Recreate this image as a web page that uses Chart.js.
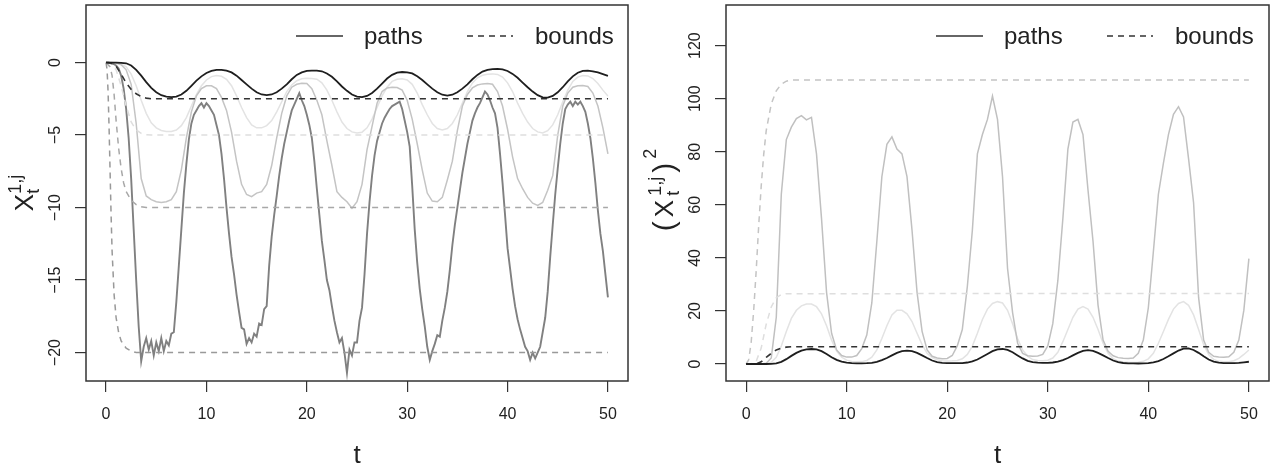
<!DOCTYPE html>
<html lang="en">
<head>
<meta charset="UTF-8">
<title>Paths and bounds</title>
<script src="https://cdn.jsdelivr.net/npm/chart.js"></script>
<style>
  body { margin: 0; background: #fff; }
  #wrap { position: relative; width: 1273px; height: 466px; }
  .panel { position: absolute; top: 0; height: 466px; }
  #left { left: 0; width: 640px; }
  #right { left: 640px; width: 633px; }
</style>
</head>
<body>
<div id="wrap">
  <div class="panel" id="left"><canvas id="chartLeft" width="640" height="466"></canvas></div>
  <div class="panel" id="right"><canvas id="chartRight" width="633" height="466"></canvas></div>
</div>
<script>
// ---- data ----
var xTicks = [0, 10, 20, 30, 40, 50];
var yTicksLeft = [-20, -15, -10, -5, 0];
var yTicksRight = [0, 20, 40, 60, 80, 100, 120];

// sampling times: paths 1-3 every 0.5, path 4 every 0.25
var tHalf = [];
for (var i = 0; i <= 100; i++) tHalf.push(i * 0.5);
var tQuarter = [];
for (var j = 0; j <= 200; j++) tQuarter.push(j * 0.25);

// left panel: X_t paths
var path1 = [
  0, 0, 0, -0.02, -0.05, -0.2, -0.5, -0.9, -1.35, -1.75,
  -2.05, -2.25, -2.35, -2.38, -2.35, -2.2, -1.95, -1.6, -1.25, -0.95,
  -0.72, -0.57, -0.5, -0.5, -0.55, -0.68, -0.9, -1.2, -1.5, -1.8,
  -2.05, -2.2, -2.25, -2.2, -2.05, -1.8, -1.5, -1.15, -0.85, -0.68,
  -0.58, -0.55, -0.55, -0.6, -0.75, -0.98, -1.3, -1.65, -1.95, -2.2,
  -2.35, -2.38, -2.3, -2.1, -1.8, -1.45, -1.1, -0.85, -0.7, -0.65,
  -0.67, -0.75, -0.95, -1.2, -1.5, -1.8, -2.05, -2.22, -2.28, -2.22,
  -2.05, -1.8, -1.5, -1.15, -0.85, -0.62, -0.5, -0.45, -0.44, -0.47,
  -0.58, -0.78, -1.05, -1.38, -1.7, -2.0, -2.25, -2.4, -2.42, -2.3,
  -2.05, -1.7, -1.3, -0.95, -0.7, -0.57, -0.55, -0.6, -0.68, -0.8,
  -0.92
];
var path2 = [
  0, 0, -0.02, -0.1, -0.3, -0.8, -1.6, -2.6, -3.5, -4.15,
  -4.5, -4.68, -4.75, -4.75, -4.65, -4.35, -3.8, -3.0, -2.2, -1.6,
  -1.2, -0.97, -0.9, -0.95, -1.15, -1.6, -2.3, -3.1, -3.8, -4.3,
  -4.5, -4.5, -4.35, -4.0, -3.4, -2.7, -2.0, -1.55, -1.25, -1.12,
  -1.08, -1.1, -1.15, -1.4, -1.9, -2.6, -3.4, -4.1, -4.55, -4.78,
  -4.85, -4.8, -4.5, -3.9, -3.1, -2.3, -1.7, -1.3, -1.15, -1.12,
  -1.2, -1.5, -2.1, -2.9, -3.6, -4.2, -4.55, -4.65, -4.55, -4.2,
  -3.6, -2.8, -2.0, -1.4, -1.05, -0.88, -0.8, -0.78, -0.82, -1.0,
  -1.4, -2.0, -2.8, -3.5, -4.1, -4.55, -4.78, -4.85, -4.7, -4.3,
  -3.6, -2.7, -1.9, -1.3, -1.0, -0.9, -0.92, -1.1, -1.45, -1.9,
  -2.3
];
var path3 = [
  0, 0, -0.03, -0.15, -0.5, -1.5, -4.2, -8.0, -9.2, -9.45,
  -9.6, -9.65, -9.6, -9.45, -8.9, -7.4, -5.2, -3.4, -2.3, -1.8,
  -1.6, -1.6, -1.8, -2.4, -3.3, -4.8, -6.8, -8.4, -9.1, -9.25,
  -9.0, -8.9, -8.4, -7.1, -5.2, -3.5, -2.3, -1.7, -1.5, -1.42,
  -1.45, -1.8, -2.6, -3.6, -5.4, -7.1, -8.9, -9.3, -9.6, -10.05,
  -9.6, -8.4, -6.0, -4.4, -2.8, -2.0, -1.75, -1.7, -1.72, -1.9,
  -2.6, -3.9, -5.6, -7.4, -9.0, -9.55, -9.6, -9.3, -8.1, -6.8,
  -4.7, -3.0, -2.2, -1.75, -1.55, -1.47, -1.45, -1.5, -2.0, -3.0,
  -4.6, -6.5, -8.0, -8.7, -9.3, -9.7, -9.85, -9.65, -8.8, -7.8,
  -5.0, -3.0, -2.1, -1.7, -1.6, -1.58, -1.65, -2.1, -3.0, -4.5,
  -6.3
];
var path4 = [
  0, 0, -0.05, -0.1,
  -0.2, -0.4, -0.9, -1.8,
  -3.2, -5.2, -8.0, -11.5,
  -15.0, -18.2, -20.6, -19.6,
  -19.0, -19.8, -19.2, -20.2,
  -19.3, -19.9, -19.0, -19.9,
  -19.2, -19.5, -18.7, -18.6,
  -16.5, -14.0, -11.5, -9.0,
  -7.0, -5.3, -4.2, -3.6,
  -3.3, -3.0, -2.8, -3.1,
  -2.8, -3.0, -3.3, -3.6,
  -4.3, -5.0, -6.3, -8.0,
  -10.0, -11.8, -13.4, -14.6,
  -16.0, -17.2, -18.3, -18.4,
  -19.4, -19.0, -19.3, -18.7,
  -18.9, -18.0, -18.1, -17.0,
  -16.8, -14.0, -12.0, -10.5,
  -9.2, -7.8, -6.6, -5.6,
  -4.8, -4.0, -3.3, -2.9,
  -2.5, -2.1, -2.6, -3.0,
  -3.6, -4.3, -5.2, -6.8,
  -8.7, -10.5, -12.3, -13.6,
  -15.0, -15.7, -16.8, -17.8,
  -18.6, -19.3, -19.0, -20.0,
  -21.4, -19.8, -20.2, -19.3,
  -19.3, -17.8, -16.9, -14.6,
  -11.8, -9.6, -7.8, -6.4,
  -5.4, -4.8, -4.2, -3.8,
  -3.5, -3.2, -3.0, -2.9,
  -2.8, -2.7, -3.2, -4.0,
  -4.8, -5.8, -8.5, -11.5,
  -13.8, -15.6, -17.0, -18.2,
  -19.6, -20.5, -19.9, -19.4,
  -18.8, -18.9, -17.8, -16.9,
  -15.8, -14.3, -12.6, -11.2,
  -10.0, -8.8, -7.6, -6.6,
  -5.6, -4.8, -4.0, -3.5,
  -3.1, -2.8, -2.4, -2.0,
  -2.2, -2.6, -3.1, -3.5,
  -4.5, -6.3, -8.3, -10.5,
  -12.8, -14.2, -15.6, -16.8,
  -17.7, -18.4, -19.0, -19.6,
  -19.9, -20.5, -20.0, -20.4,
  -20.0, -19.6, -18.6, -17.6,
  -15.8, -13.4, -11.2, -9.1,
  -7.3, -5.6, -4.2, -3.2,
  -2.9, -2.7, -3.0, -2.7,
  -2.9, -2.7, -3.0, -3.4,
  -4.2, -5.2, -6.6, -8.3,
  -10.2, -11.8, -13.0, -14.6,
  -16.2
];

// left panel: bounds
var boundA_t = [0, 0.5, 1, 1.5, 2, 2.5, 3, 3.5, 4, 4.5, 50];
var boundA = [0, -0.05, -0.25, -0.8, -1.4, -1.85, -2.15, -2.35, -2.45, -2.5, -2.5];
var boundB_t = [0, 0.5, 1, 1.5, 2, 2.5, 3, 3.5, 4, 4.5, 50];
var boundB = [0, -0.1, -0.5, -1.6, -3.0, -4.1, -4.65, -4.88, -4.97, -5, -5];
var boundC_t = [0, 0.4, 0.6, 0.8, 1.0, 1.25, 1.5, 1.75, 2.0, 2.5, 3, 3.5, 4, 50];
var boundC = [0, -0.3, -0.9, -2.2, -4.0, -5.9, -7.3, -8.3, -8.9, -9.5, -9.8, -9.95, -10, -10];
var boundD_t = [0, 0.1, 0.2, 0.3, 0.4, 0.5, 0.6, 0.8, 1.0, 1.25, 1.5, 2, 2.5, 3, 50];
var boundD = [0, -0.5, -2, -4.5, -7.5, -10.5, -13, -16, -17.6, -18.6, -19.2, -19.7, -19.9, -20, -20];

// right panel: squared paths
var sqPath1 = [
  0, 0, 0, 0, 0, 0.04, 0.25, 0.81, 1.82, 3.06,
  4.2, 5.06, 5.52, 5.66, 5.52, 4.84, 3.8, 2.56, 1.56, 0.9,
  0.52, 0.32, 0.25, 0.25, 0.3, 0.46, 0.81, 1.44, 2.25, 3.24,
  4.2, 4.84, 5.06, 4.84, 4.2, 3.24, 2.25, 1.32, 0.72, 0.46,
  0.34, 0.3, 0.3, 0.36, 0.56, 0.96, 1.69, 2.72, 3.8, 4.84,
  5.52, 5.66, 5.29, 4.41, 3.24, 2.1, 1.21, 0.72, 0.49, 0.42,
  0.45, 0.56, 0.9, 1.44, 2.25, 3.24, 4.2, 4.93, 5.2, 4.93,
  4.2, 3.24, 2.25, 1.32, 0.72, 0.38, 0.25, 0.2, 0.19, 0.22,
  0.34, 0.61, 1.1, 1.9, 2.89, 4.0, 5.06, 5.76, 5.86, 5.29,
  4.2, 2.89, 1.69, 0.9, 0.49, 0.32, 0.3, 0.36, 0.46, 0.64,
  0.85
];
var sqPath2 = [
  0, 0, 0, 0.01, 0.09, 0.64, 2.56, 6.76, 12.25, 17.2,
  20.25, 21.9, 22.6, 22.6, 21.6, 18.9, 14.4, 9.0, 4.84, 2.56,
  1.44, 0.94, 0.81, 0.9, 1.32, 2.56, 5.29, 9.61, 14.4, 18.5,
  20.25, 20.25, 18.9, 16.0, 11.6, 7.3, 4.0, 2.4, 1.56, 1.25,
  1.17, 1.21, 1.32, 1.96, 3.61, 6.76, 11.6, 16.8, 20.7, 22.8,
  23.5, 23.0, 20.25, 15.2, 9.6, 5.3, 2.9, 1.69, 1.32, 1.25,
  1.44, 2.25, 4.41, 8.41, 13.0, 17.6, 20.7, 21.6, 20.7, 17.6,
  13.0, 7.8, 4.0, 1.96, 1.1, 0.77, 0.64, 0.61, 0.67, 1.0,
  1.96, 4.0, 7.8, 12.25, 16.8, 20.7, 22.8, 23.5, 22.1, 18.5,
  13.0, 7.3, 3.6, 1.69, 1.0, 0.81, 0.85, 1.21, 2.1, 3.6,
  5.3
];
var sqPath3 = [
  0, 0, 0, 0.02, 0.25, 2.25, 17.6, 64, 84.6, 89.3,
  92.5, 93.6, 92.0, 93.0, 79.2, 54.8, 27.0, 11.6, 5.3, 3.2,
  2.6, 2.6, 3.2, 5.8, 10.9, 23.0, 46.2, 70.6, 82.8, 85.6,
  81.0, 79.2, 70.6, 50.4, 27.0, 12.3, 5.3, 2.9, 2.25, 2.0,
  2.1, 3.2, 6.8, 13.0, 29.2, 50.4, 79.2, 86.5, 92.2, 101,
  92.2, 70.6, 36.0, 19.4, 7.8, 4.0, 3.1, 2.9, 3.0, 3.6,
  6.8, 15.2, 31.4, 54.8, 81.0, 91.2, 92.2, 86.5, 65.6, 46.2,
  22.1, 9.0, 4.8, 3.1, 2.4, 2.2, 2.1, 2.25, 4.0, 9.0,
  21.2, 42.3, 64.0, 75.7, 86.5, 94.1, 97.0, 93.1, 77.4, 60.8,
  25.0, 9.0, 4.4, 2.9, 2.6, 2.5, 2.7, 4.4, 9.0, 20.3,
  39.7
];

// right panel: bounds
var sqBoundA_t = [0, 0.5, 1, 1.5, 2, 2.5, 3, 3.5, 4, 4.5, 5, 50];
var sqBoundA = [0, 0, 0.1, 0.8, 2.5, 4.0, 5.3, 6.0, 6.35, 6.5, 6.5, 6.5];
var sqBoundB_t = [0, 0.5, 1, 1.5, 2, 2.5, 3, 3.5, 4, 50];
var sqBoundB = [0, 0.1, 1, 6, 15, 21.5, 25, 26.2, 26.5, 26.6];
var sqBoundC_t = [0, 0.25, 0.5, 0.75, 1, 1.25, 1.5, 1.75, 2, 2.5, 3, 3.5, 4, 4.5, 5, 50];
var sqBoundC = [0, 1.5, 8, 20, 35, 52, 67, 79, 88, 98, 103, 105.5, 106.6, 107, 107.1, 107.1];

// ---- drawing ----
var FONT = '"Liberation Sans", Arial, Helvetica, sans-serif';

function pts(ts, vs) {
  return vs.map(function (v, k) { return { x: ts[k], y: v }; });
}

function line(ts, vs, color, width, dashed) {
  return {
    data: pts(ts, vs),
    borderColor: color,
    borderWidth: width,
    borderDash: dashed ? [6, 5] : [],
    pointRadius: 0,
    tension: 0,
    fill: false
  };
}

function minus(v) {
  return v < 0 ? '\u2212' + Math.abs(v) : String(v);
}

// draws a plotmath-like label rotated by 90 degrees
function drawRotatedMath(ctx, items, cx, cy, gap) {
  var total = 0;
  items.forEach(function (it, k) {
    it.w = 0;
    (it.parts || [it]).forEach(function (p) {
      ctx.font = p.size + 'px ' + FONT;
      it.w = Math.max(it.w, ctx.measureText(p.text).width);
    });
    total += it.w + (k < items.length - 1 ? gap : 0);
  });
  ctx.save();
  ctx.translate(cx, cy);
  ctx.rotate(-Math.PI / 2);
  ctx.fillStyle = '#222';
  ctx.textAlign = 'left';
  ctx.textBaseline = 'alphabetic';
  var x = -total / 2;
  var base = 9; // baseline shift so the capital X sits centred on cx
  items.forEach(function (it) {
    (it.parts || [it]).forEach(function (p) {
      ctx.font = p.size + 'px ' + FONT;
      ctx.fillText(p.text, x, base + (p.dy || 0));
    });
    x += it.w + gap;
  });
  ctx.restore();
}

var decor = {
  id: 'rDecor',
  afterDraw: function (chart, args, opts) {
    var ctx = chart.ctx;
    var a = chart.chartArea;
    var ys = chart.scales.y;

    // box
    ctx.save();
    ctx.strokeStyle = '#333';
    ctx.lineWidth = 1.5;
    ctx.strokeRect(a.left, a.top, a.right - a.left, a.bottom - a.top);

    // y tick labels, parallel to the axis
    ctx.fillStyle = '#222';
    ctx.font = '16px ' + FONT;
    ctx.textAlign = 'center';
    ctx.textBaseline = 'alphabetic';
    ys.ticks.forEach(function (t) {
      var py = ys.getPixelForValue(t.value);
      ctx.save();
      ctx.translate(54, py);
      ctx.rotate(-Math.PI / 2);
      ctx.fillText(minus(t.value), 0, 6);
      ctx.restore();
    });

    // x title
    ctx.font = '26px ' + FONT;
    ctx.fillText('t', (a.left + a.right) / 2, 463);

    // legend
    ctx.strokeStyle = '#333';
    ctx.lineWidth = 1.5;
    ctx.beginPath();
    ctx.moveTo(296, 36); ctx.lineTo(343, 36);
    ctx.stroke();
    ctx.setLineDash([6, 5]);
    ctx.beginPath();
    ctx.moveTo(467, 36); ctx.lineTo(513, 36);
    ctx.stroke();
    ctx.setLineDash([]);
    ctx.font = '24px ' + FONT;
    ctx.textAlign = 'left';
    ctx.fillText('paths', 364, 44);
    ctx.fillText('bounds', 535, 44);
    ctx.restore();

    // y title
    var B = 26, S = 18;
    var cy = (a.top + a.bottom) / 2;
    var core = [
      { text: 'X', size: B },
      { parts: [{ text: '1,j', size: S, dy: -12 }, { text: 't', size: S, dy: 6 }] }
    ];
    if (opts.yTitle === 'square') {
      core = [{ text: '(', size: 30, dy: 1 }].concat(core, [{ text: ')', size: 30, dy: 1 }, { text: '2', size: S, dy: -17 }]);
      drawRotatedMath(ctx, core, 24, cy - 3, 4);
    } else {
      drawRotatedMath(ctx, core, 24, cy, 0);
    }
  }
};

function makeOptions(yMin, yMax, yTickVals, titleKind, padRight) {
  var gridStyle = { drawOnChartArea: false, drawTicks: true, tickLength: 11, color: '#333', lineWidth: 1.2 };
  return {
    responsive: false,
    animation: false,
    events: [],
    layout: { padding: { left: 0, right: padRight, top: 5, bottom: 0 } },
    plugins: {
      legend: { display: false },
      tooltip: { enabled: false },
      rDecor: { yTitle: titleKind }
    },
    scales: {
      x: {
        type: 'linear', min: -2, max: 52,
        afterBuildTicks: function (s) { s.ticks = xTicks.map(function (v) { return { value: v }; }); },
        afterFit: function (s) { s.height = 85; s.paddingLeft = 0; s.paddingRight = 0; },
        grid: gridStyle,
        border: { display: false },
        ticks: { color: '#222', font: { family: FONT, size: 16 }, padding: 13, maxRotation: 0, autoSkip: false }
      },
      y: {
        type: 'linear', min: yMin, max: yMax,
        afterBuildTicks: function (s) { s.ticks = yTickVals.map(function (v) { return { value: v }; }); },
        afterFit: function (s) { s.width = 86; s.paddingTop = 0; s.paddingBottom = 0; },
        grid: gridStyle,
        border: { display: false },
        ticks: { display: false }
      }
    }
  };
}

new Chart(document.getElementById('chartLeft'), {
  type: 'line',
  data: {
    datasets: [
      line(tHalf, path1, '#1e1e1e', 1.8, false),
      line(boundA_t, boundA, '#333333', 1.6, true),
      line(boundB_t, boundB, '#dedede', 1.5, true),
      line(boundC_t, boundC, '#a8a8a8', 1.5, true),
      line(boundD_t, boundD, '#999999', 1.5, true),
      line(tQuarter, path4, '#808080', 1.9, false),
      line(tHalf, path3, '#c4c4c4', 1.5, false),
      line(tHalf, path2, '#e3e3e3', 1.5, false)
    ]
  },
  options: makeOptions(-21.96, 3.97, yTicksLeft, 'plain', 12),
  plugins: [decor]
});

new Chart(document.getElementById('chartRight'), {
  type: 'line',
  data: {
    datasets: [
      line(tHalf, sqPath1, '#1e1e1e', 1.8, false),
      line(sqBoundA_t, sqBoundA, '#333333', 1.6, true),
      line(sqBoundB_t, sqBoundB, '#dedede', 1.5, true),
      line(sqBoundC_t, sqBoundC, '#c4c4c4', 1.5, true),
      line(tHalf, sqPath3, '#c0c0c0', 1.5, false),
      line(tHalf, sqPath2, '#e3e3e3', 1.5, false)
    ]
  },
  options: makeOptions(-6.41, 135.33, yTicksRight, 'square', 4),
  plugins: [decor]
});
</script>
</body>
</html>
